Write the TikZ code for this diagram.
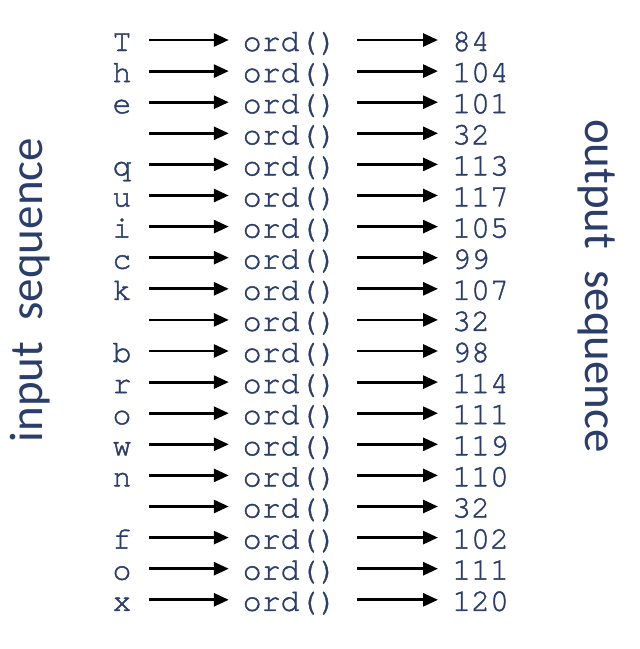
\documentclass[tikz,border=0pt]{standalone}
\usepackage{fontspec}
\setmonofont[FakeBold=1.4]{TeX Gyre Cursor}
\setsansfont{Carlito}
\usetikzlibrary{arrows.meta}
\definecolor{ink}{HTML}{2B3E6B}
\begin{document}
\begin{tikzpicture}[x=1pt,y=-1pt,
  txt/.style={font=\ttfamily\fontsize{31.5}{31.5}\selectfont, text=ink, text height=24pt, text depth=2pt, inner ysep=0pt},
  chr/.style={txt, minimum width=54pt, inner xsep=0pt},
  fn/.style={txt, minimum width=122pt, inner xsep=0pt},
  num/.style={txt, anchor=west, inner xsep=14pt},
  arr/.style={line width=2.8pt, -{Triangle[length=15pt,width=13pt]}},
  lab/.style={font=\sffamily\fontsize{47}{47}\selectfont, text=ink}]
\useasboundingbox (0,0) rectangle (640,649);
\foreach [count=\i] \c/\n in {T/84,h/104,e/101,{}/32,q/113,u/117,i/105,c/99,k/107,{}/32,b/98,r/114,o/111,w/119,n/110,{}/32,f/102,o/111,x/120}{
  \pgfmathsetmacro{\yy}{40+(\i-1)*31.1}
  \node[chr] (c\i) at (122,\yy) {\c};
  \node[fn] (o\i) at (290,\yy) {ord()};
  \node[num] (n\i) at (438,\yy) {\n};
  \draw[arr] (c\i.east) -- (o\i.west);
  \draw[arr, shorten <=6pt] (o\i.east) -- (n\i.west);
}
\node[lab, rotate=90] (inp) at (30,290) {input\hspace{0.45em}sequence};
\node[lab, rotate=-90] (outp) at (597,286) {output\hspace{0.45em}sequence};
\end{tikzpicture}
\end{document}
